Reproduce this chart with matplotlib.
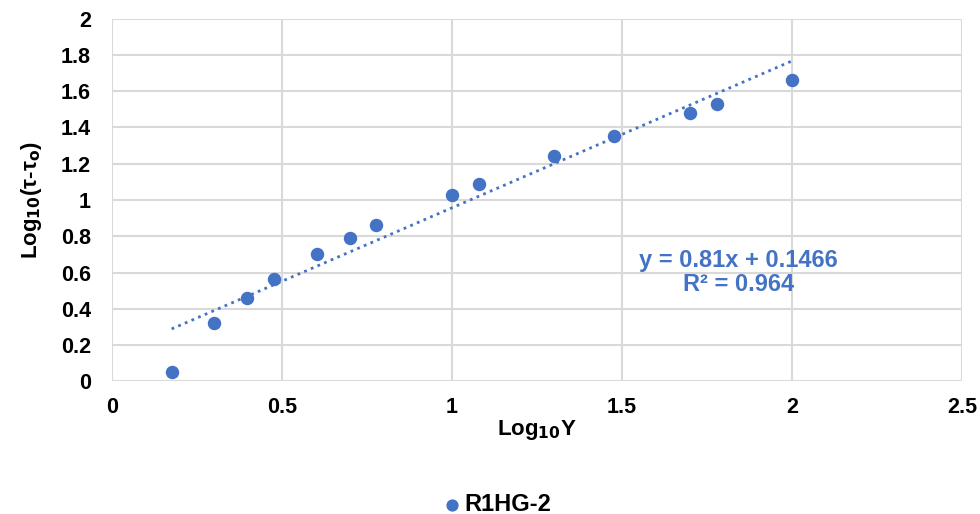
import numpy as np
import matplotlib.pyplot as plt

plt.rcParams['font.family'] = ['Liberation Sans', 'DejaVu Sans']
plt.rcParams['font.weight'] = 'bold'

log_shear = [0.176, 0.301, 0.398, 0.477, 0.602, 0.699, 0.778,
             1.0, 1.079, 1.301, 1.477, 1.699, 1.778, 2.0]
log_stress = [0.05, 0.32, 0.46, 0.565, 0.70, 0.79, 0.86,
              1.03, 1.09, 1.24, 1.35, 1.48, 1.53, 1.66]
slope = 0.81
intercept = 0.1466
r2 = 0.964
series_name = 'R1HG-2'

blue = '#4472C4'

fig = plt.figure(figsize=(9.8, 5.14), dpi=100)
ax = fig.add_axes([0.114, 0.258, 0.868, 0.706])

ax.scatter(log_shear, log_stress, s=75, color=blue, zorder=3, label=series_name)

xs = np.array([min(log_shear), max(log_shear)])
ax.plot(xs, slope * xs + intercept, color=blue, linestyle=(0, (1, 1.6)),
        linewidth=2, zorder=2)

ax.text(1.843, 0.60, 'y = %.2fx + %.4f\nR² = %.3f' % (slope, intercept, r2),
        color=blue, fontsize=17, ha='center', va='center', linespacing=1.05)

ax.set_xlim(0, 2.5)
ax.set_ylim(0, 2)
ax.set_xticks(np.arange(0, 2.51, 0.5))
ax.set_xticklabels(['0', '0.5', '1', '1.5', '2', '2.5'])
ax.set_yticks(np.arange(0, 2.01, 0.2))
ax.set_yticklabels(['0', '0.2', '0.4', '0.6', '0.8', '1', '1.2', '1.4', '1.6', '1.8', '2'])
ax.tick_params(length=0, labelsize=15.5)
ax.tick_params(axis='y', pad=15)
ax.tick_params(axis='x', pad=11)
ax.grid(True, color='#D9D9D9', linewidth=1.5)
ax.set_axisbelow(True)
for s in ax.spines.values():
    s.set_visible(False)

ax.set_xlabel('Log$_{\\mathbf{10}}$Y', fontsize=16, fontweight='bold', labelpad=0)
ax.set_ylabel('Log$_{\\mathbf{10}}$(τ-τ$_{\\mathbf{o}}$)', fontsize=16, fontweight='bold', labelpad=12)

fig.legend(loc='lower center', bbox_to_anchor=(0.50, -0.045), frameon=False,
           fontsize=17, handletextpad=-0.45, markerscale=0.9)

fig.savefig('out.png', dpi=100)
